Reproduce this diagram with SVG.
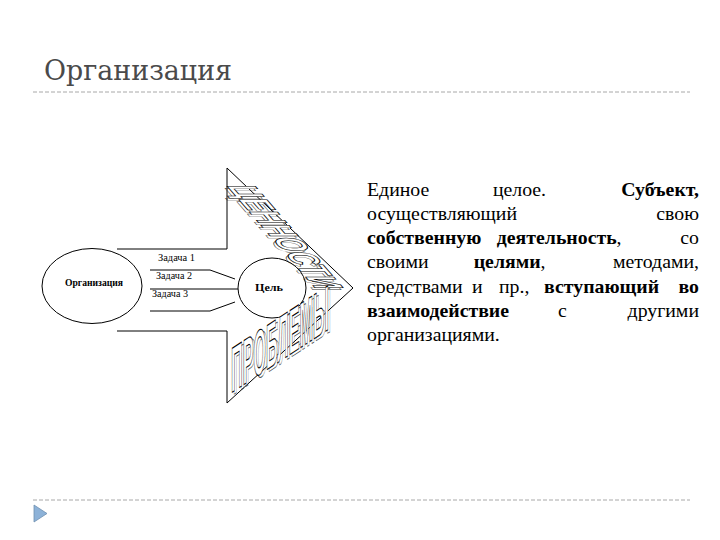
<svg xmlns="http://www.w3.org/2000/svg" width="720" height="540" viewBox="0 0 720 540">
  <style>
    .title { font-family: "DejaVu Serif", "Liberation Serif", serif; font-size: 27px; fill: #4a4a4a; }
    .rule { stroke: #a8a8a8; stroke-width: 1; stroke-dasharray: 4 2; fill: none; }
    .shape { fill: none; stroke: #000; stroke-width: 1; }
    .ell { fill: #fff; stroke: #000; stroke-width: 1; }
    .lbl { font-family: "Liberation Serif", "Times New Roman", serif; font-size: 9.5px; fill: #000; }
    .lblb { font-family: "Liberation Serif", "Times New Roman", serif; font-size: 10px; font-weight: bold; fill: #000; }
    .wa { font-family: "Liberation Sans Narrow", "Liberation Sans", sans-serif; font-size: 20px; font-weight: bold; fill: #fff; stroke: #000; stroke-width: 0.9; vector-effect: non-scaling-stroke; }
    .wash { font-family: "Liberation Sans Narrow", "Liberation Sans", sans-serif; font-size: 20px; font-weight: bold; fill: none; stroke: #333; stroke-width: 0.6; vector-effect: non-scaling-stroke; }
    .body { font-family: "Liberation Serif", "Times New Roman", serif; font-size: 18px; fill: #000; }
    .b { font-weight: bold; }
  </style>

  <g id="title">
    <text class="title" x="44" y="80" textLength="188" lengthAdjust="spacingAndGlyphs">Организация</text>
    <line class="rule" x1="33" y1="92" x2="690" y2="92"/>
  </g>

  <g id="footer">
    <line class="rule" x1="33" y1="500" x2="690" y2="500"/>
    <polygon points="34,505 47,513.5 34,522" fill="#8db2d8" stroke="#6f8fb0" stroke-width="0.8"/>
  </g>

  <g id="arrow">
    <polyline class="shape" points="117,249 227,249 227,168 353,288 227,403 227,331 117,331"/>
  </g>

  <g id="org">
    <ellipse class="ell" cx="92" cy="286" rx="50" ry="37.5"/>
    <text class="lblb" x="65" y="286" textLength="58" lengthAdjust="spacingAndGlyphs">Организация</text>
  </g>

  <g id="goal">
    <ellipse class="ell" cx="272" cy="288" rx="34" ry="30"/>
    <text class="lblb" x="255" y="291" textLength="28" lengthAdjust="spacingAndGlyphs">Цель</text>
  </g>

  <g id="connectors">
    <polyline class="shape" points="150,270 210,270 235,279"/>
    <polyline class="shape" points="150,289 238,289"/>
    <polyline class="shape" points="150,311 210,311 235,302"/>
  </g>

  <g id="tasks">
    <text class="lbl" x="158" y="261" textLength="37" lengthAdjust="spacingAndGlyphs">Задача 1</text>
    <text class="lbl" x="156" y="279" textLength="36" lengthAdjust="spacingAndGlyphs">Задача 2</text>
    <text class="lbl" x="152" y="297" textLength="36" lengthAdjust="spacingAndGlyphs">Задача 3</text>
  </g>

  <g id="values">
    <text class="wash" transform="matrix(0.9,1.04,-2.05,0,224,187)" x="0" y="0" textLength="100" lengthAdjust="spacingAndGlyphs">ЦЕННОСТИ</text>
    <text class="wa" transform="matrix(0.9,1.04,-2.05,0,226,185)" x="0" y="0" textLength="100" lengthAdjust="spacingAndGlyphs">ЦЕННОСТИ</text>
  </g>

  <g id="problems">
    <text class="wash" transform="matrix(0.98,-0.64,0,3.2,233,395)" x="0" y="0" textLength="100" lengthAdjust="spacingAndGlyphs">ПРОБЛЕМЫ</text>
    <text class="wa" transform="matrix(0.98,-0.64,0,3.2,231,393)" x="0" y="0" textLength="100" lengthAdjust="spacingAndGlyphs">ПРОБЛЕМЫ</text>
  </g>

  <g id="definition" class="body" transform="translate(367,0) scale(1.1,1) translate(-367,0)">
    <text y="196"><tspan x="367">Единое</tspan><tspan x="481.5">целое.</tspan><tspan class="b" x="668.8" text-anchor="end">Субъект,</tspan></text>
    <text y="220"><tspan x="367">осуществляющий</tspan><tspan x="668.8" text-anchor="end">свою</tspan></text>
    <text y="244"><tspan x="367" class="b">собственную</tspan><tspan x="485" class="b">деятельность</tspan><tspan>,</tspan><tspan x="668.8" text-anchor="end">со</tspan></text>
    <text y="268"><tspan x="367">своими</tspan><tspan x="464" class="b">целями</tspan><tspan>,</tspan><tspan x="668.8" text-anchor="end">методами,</tspan></text>
    <text y="293"><tspan x="367">средствами</tspan><tspan x="462.5">и</tspan><tspan x="487">пр.,</tspan><tspan x="632.5" text-anchor="end" class="b">вступающий</tspan><tspan x="668.8" text-anchor="end" class="b">во</tspan></text>
    <text y="317"><tspan x="367" class="b">взаимодействие</tspan><tspan x="540.6">с</tspan><tspan x="668.8" text-anchor="end">другими</tspan></text>
    <text y="341" x="367">организациями.</text>
  </g>
</svg>
